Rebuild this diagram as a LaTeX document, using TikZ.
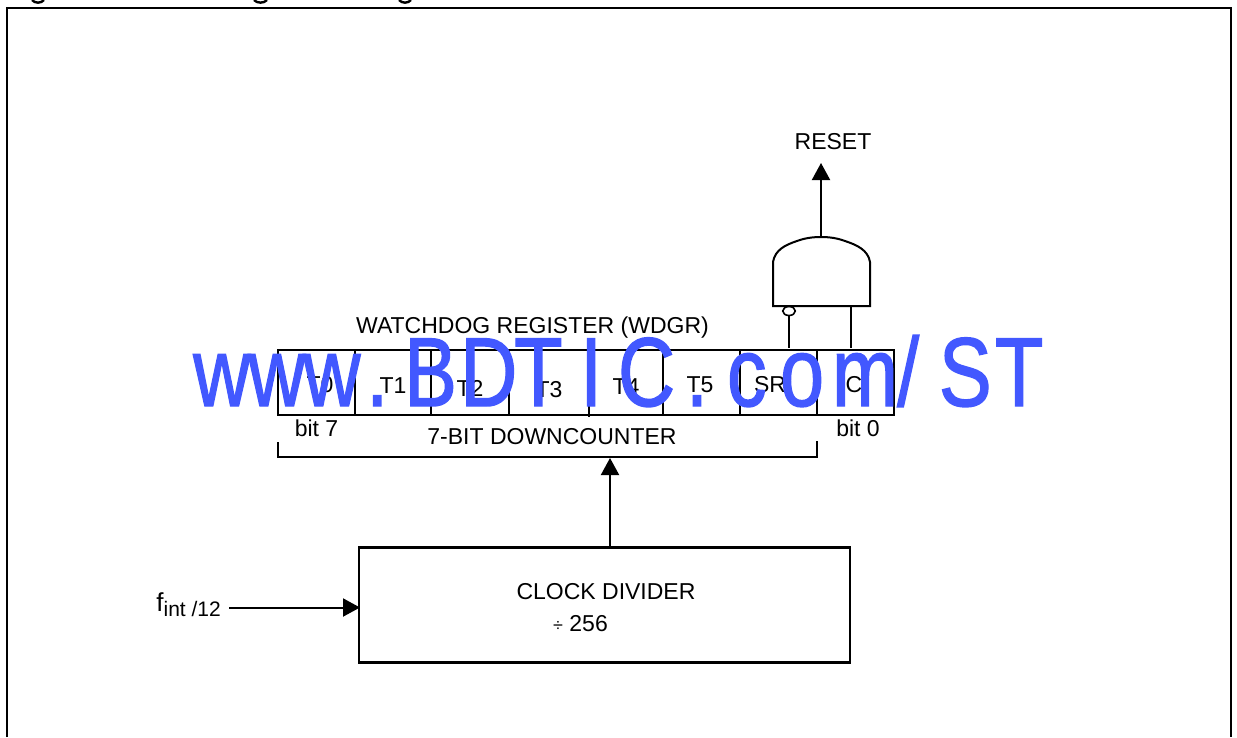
\documentclass[tikz,border=0pt]{standalone}
\usepackage{fontspec}
\setmainfont{Liberation Sans}
\usetikzlibrary{arrows.meta}
\definecolor{markblue}{RGB}{66,88,255}
\newfontfamily\markfont[FakeBold=1.5]{Liberation Sans}
\tikzset{
>={Triangle[width=18pt,length=17pt]},
	cell/.style={
		rectangle,
		sharp corners,
		draw=black, line width=2pt,
		minimum width=77pt,
		minimum height=65pt,
		inner sep=0pt},
	divider/.style={
		rectangle,
		sharp corners,
		draw=black, line width=2.2pt,
		minimum width=491pt,
		minimum height=115pt,
		inner sep=0pt},
	tag/.style={
		font=\fontsize{23}{26}\selectfont,
		inner sep=0pt},
	wire/.style={draw=black, line width=2pt}
}

\begin{document}
\begin{tikzpicture}
[x=1pt, y=-1pt]
\useasboundingbox (0,0) rectangle (1237,737);
\draw[line width=2.6pt] (7,737) -- (7,8) -- (1231,8) -- (1231,737);
% cut heading
\draw[line width=2.4pt] (32,0) .. controls (35,3.5) and (41,3.5) .. (44,0);
\draw[line width=2.4pt] (254,0) .. controls (257,3.5) and (264,3.5) .. (267,0);
\draw[line width=2.4pt] (399,0) .. controls (402,3.5) and (408,3.5) .. (411,0);
\node[cell] (t0) at (316.5,382) {};
\node[cell, minimum width=76pt] (t1) at (393,382) {};
\node[cell, minimum width=78pt] (t2) at (470,382) {};
\node[cell, minimum width=80pt] (t3) at (549,382) {};
\node[cell, minimum width=74pt] (t4) at (626,382) {};
\node[cell] (t5) at (701.5,382) {};
\node[cell] (sr) at (778.5,382) {};
\node[cell] (c) at (855.5,382) {};
\node[tag] (lt0) at (320,385) {T0};
\node[tag] (lt1) at (393,386) {T1};
\node[tag] (lt2) at (470,388) {T2};
\node[tag] (lt3) at (549,390) {T3};
\node[tag] (lt4) at (626,387) {T4};
\node[tag] (lt5) at (700,385) {T5};
\node[tag] (lsr) at (770,385) {SR};
\node[tag] (lc) at (854,385) {C};
\node[tag] (wdgr) at (532.5,328) {WATCHDOG REGISTER (WDGR)};
\node[tag] (bit7) at (316.5,428) {bit 7};
\node[tag] (bit0) at (858,428) {bit 0};
\node[tag] (down) at (552,437) {7-BIT DOWNCOUNTER};
\node[tag] (reset) at (833,142) {RESET};
\node[divider] (div) at (604.5,605) {};
\node[tag] (divtext) at (606,592) {CLOCK DIVIDER};
\node[tag] (divnum) at (580.5,624) {\fontsize{18}{20}\selectfont÷\fontsize{23}{26}\selectfont{} 256};
\node[tag, anchor=east] (fint) at (221,605) {\fontsize{26}{28}\selectfont f\raisebox{-5pt}{\fontsize{21}{24}\selectfont int /12}};
\coordinate (fstart) at (229,607.5);
\coordinate (fend) at (360,607.5);
\draw[wire, ->] (fstart) -- (fend);
\coordinate (divtop) at (610,548);
\coordinate (bracetop) at (610,458);
\draw[wire, ->] (divtop) -- (bracetop);
\coordinate (bl) at (278,442);
\coordinate (br) at (817,441);
\draw[wire] (bl) -- (278,457) -- (817,457) -- (br);
\draw[wire] (589,349) -- (589,417);
% and gate
\draw[wire] (773,306) -- (773,262) .. controls (775,250) and (785,245) .. (797,241) .. controls (805,238) and (813,237) .. (821,237) .. controls (829,237) and (837,238) .. (845,241) .. controls (857,245) and (868,250) .. (870,262) -- (870,306) -- cycle;
\coordinate (gatetop) at (821,237);
\coordinate (resetend) at (821,163);
\draw[wire, ->] (gatetop) -- (resetend);
\node[circle, draw=black, line width=1.6pt, minimum size=9pt, inner sep=0pt, xscale=1.4] (bubble) at (789,311) {};
\coordinate (srtop) at (789,348);
\coordinate (ctop) at (851,348);
\coordinate (gatea) at (851,306);
\draw[wire] (bubble) -- (srtop);
\draw[wire] (gatea) -- (ctop);
% overlay text
\node[anchor=base west, inner sep=0pt, text=markblue, xscale=1.1, yscale=1.36, font=\fontsize{72}{72}\selectfont\markfont] (mark) at (193,406) {w\kern-2pt w\kern-2pt w\kern5.3pt .\kern14.5pt B\kern2.9pt D\kern-3pt T\kern16pt I\kern14.5pt C\kern9.8pt .\kern17.3pt c\kern12.2pt o\kern7.3pt m\kern-0.9pt /\kern18pt S\kern3pt T};
\end{tikzpicture}
\end{document}
